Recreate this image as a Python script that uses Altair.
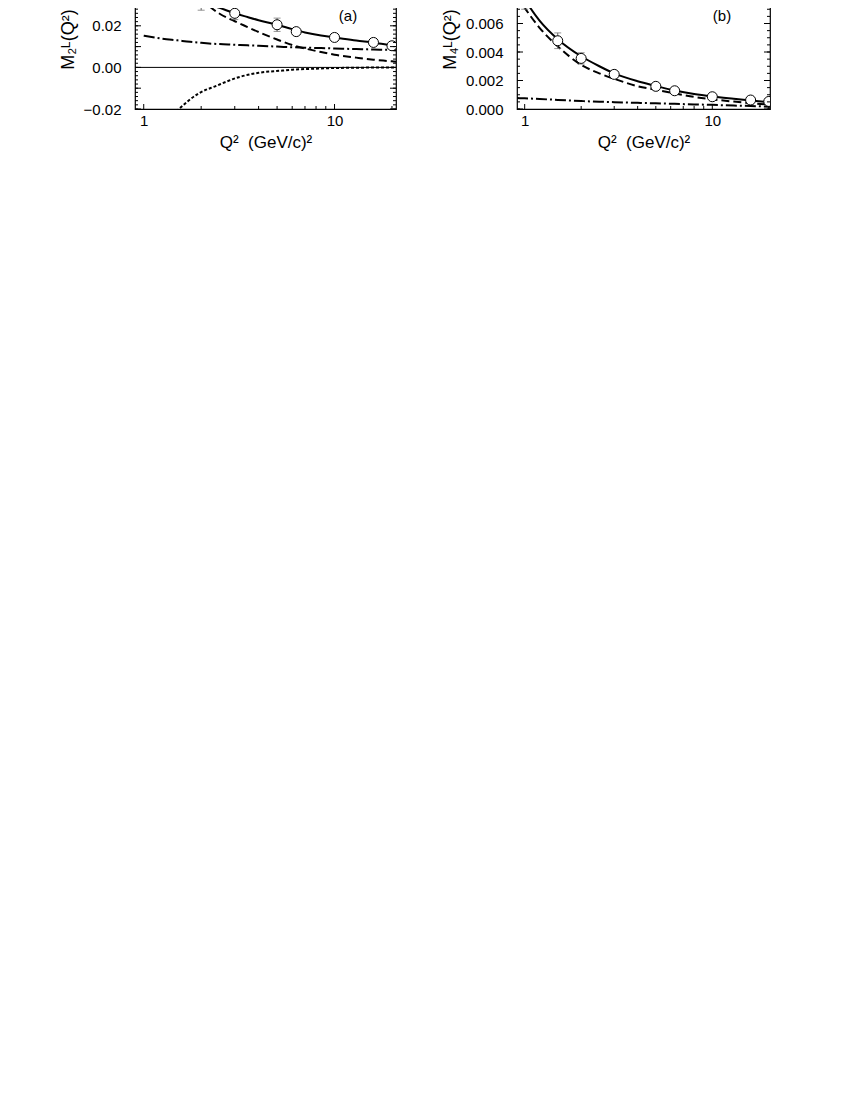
import altair as alt
import pandas as pd

FONT = "Liberation Sans"

# ---------------- panel (a): M2^L ----------------
a_q = [1.5, 2, 3, 5, 6.3, 10, 16, 20]
a_m = [0.037, 0.0322, 0.026, 0.0205, 0.0172, 0.0144, 0.0120, 0.0104]
a_err = [0.0073, 0.0047, 0.003, 0.0032, 0.001, 0.0008, 0.0008, 0.0008]

a_curve_q = [1.0, 1.25, 1.5, 1.75, 2.0, 2.2, 2.5, 3.0, 3.5, 4.0, 5.0, 6.0, 7.0, 8.5, 10, 13, 16, 20, 21]
a_total = [0.060, 0.048, 0.040, 0.0355, 0.0321, 0.0303, 0.0286, 0.0260, 0.0242, 0.0227, 0.0205, 0.0184, 0.0168, 0.0153, 0.0144, 0.0129, 0.0119, 0.0106, 0.0104]
a_dashed = [0.090, 0.062, 0.050, 0.040, 0.0330, 0.0295, 0.0258, 0.0222, 0.0194, 0.0170, 0.0134, 0.0108, 0.0091, 0.0074, 0.0061, 0.0047, 0.0037, 0.0029, 0.0027]
a_dashdot = [0.0152, 0.0138, 0.0130, 0.0123, 0.0118, 0.0115, 0.0112, 0.0109, 0.0106, 0.0104, 0.0100, 0.0097, 0.0095, 0.0093, 0.0091, 0.0088, 0.0086, 0.0084, 0.0083]
a_dotted_q = [1.0, 1.25, 1.53, 1.94, 2.38, 3.15, 4.0, 5.2, 6.0, 8.0, 10, 14, 21]
a_dotted = [-0.045, -0.028, -0.020, -0.0125, -0.0090, -0.0047, -0.0026, -0.0016, -0.0011, -0.0006, -0.0003, -0.00012, -0.00004]

# ---------------- panel (b): M4^L ----------------
b_q = [1, 1.5, 2, 3, 5, 6.3, 10, 16, 20]
b_m = [0.0077, 0.00479, 0.00355, 0.00243, 0.00159, 0.00128, 0.00086, 0.00063, 0.00053]
b_err = [0.0007, 0.00055, 0.0004, 0.0002, 0.00008, 0.00006, 0.00005, 0.00004, 0.00004]

b_curve_q = [0.91, 1.0, 1.2, 1.5, 2.0, 2.5, 3.0, 4.0, 5.0, 6.3, 8.0, 10, 13, 16, 20.3]
b_total = [0.0086, 0.0077, 0.0062, 0.0049, 0.0037, 0.0030, 0.0025, 0.00195, 0.00162, 0.0013, 0.00105, 0.00088, 0.00072, 0.0006, 0.00047]
b_dashed = [0.0079, 0.0071, 0.0057, 0.0044, 0.0031, 0.0025, 0.00212, 0.0016, 0.00135, 0.0011, 0.00085, 0.00068, 0.00052, 0.00041, 0.0003]
b_dashdot = [0.00077, 0.00075, 0.0007, 0.00064, 0.00056, 0.00051, 0.00048, 0.00043, 0.0004, 0.00036, 0.00032, 0.00029, 0.00024, 0.00021, 0.00016]

# axis ticks
a_major = [-0.02, -0.01, 0.0, 0.01, 0.02, 0.03, 0.04, 0.05, 0.06]
a_minor = [round(-0.02 + 0.002 * i, 4) for i in range(41)]
b_major = [0.0, 0.002, 0.004, 0.006, 0.008, 0.010]
b_minor = [round(0.0005 * i, 4) for i in range(24)]
x_major = [1, 10]
x_minor = [2, 3, 4, 5, 6, 7, 8, 9, 20]

H = 170


def panel(W, xdom, ydom, yvals, yfmt, ytitle, label,
          pq, pm, perr, cq, curves, dq=None, dv=None,
          major=None, minor=None, zero=False):
    xs = alt.Scale(type="log", domain=xdom, nice=False)
    ys = alt.Scale(domain=ydom, nice=False, zero=False)
    xax = alt.Axis(values=x_major, format="d", grid=False, ticks=False, domain=False,
                   labelFontSize=15, labelPadding=4, labelFont=FONT, labelColor="black",
                   title="Q²\u00a0\u00a0(GeV/c)²", titleFontSize=17, titleFont=FONT,
                   titleFontWeight="normal", titlePadding=6, titleColor="black")
    yax = alt.Axis(values=yvals, format=yfmt, grid=False, ticks=False, domain=False,
                   labelFontSize=15, labelPadding=14, labelFont=FONT, labelColor="black",
                   title=ytitle, titleFontSize=18, titleFont=FONT, titleY=100,
                   titleFontWeight="normal", titlePadding=6, titleColor="black")

    def X(f):
        return alt.X(f, scale=xs, axis=xax)

    def Y(f):
        return alt.Y(f, scale=ys, axis=yax)

    cdf = pd.DataFrame({"q": cq, **curves})
    layers = []
    styles = {"total": None, "dashed": [8, 4], "dashdot": [11, 3, 2, 3]}
    for name, dash in styles.items():
        kw = dict(color="black", strokeWidth=2, clip=True, interpolate="monotone")
        if dash:
            kw["strokeDash"] = dash
        layers.append(alt.Chart(cdf).mark_line(**kw).encode(x=X("q:Q"), y=Y(f"{name}:Q")))
    if dq is not None:
        ddf = pd.DataFrame({"q": dq, "v": dv})
        layers.append(alt.Chart(ddf).mark_line(color="black", strokeWidth=2, strokeDash=[3, 2],
                                               clip=True, interpolate="monotone")
                      .encode(x=X("q:Q"), y=Y("v:Q")))
    if zero:
        layers.append(alt.Chart(pd.DataFrame({"z": [0.0]})).mark_rule(color="black", strokeWidth=1)
                      .encode(y=Y("z:Q")))

    pdf = pd.DataFrame({"q": pq, "m": pm, "e": perr})
    pdf["lo"] = pdf["m"] - pdf["e"]
    pdf["hi"] = pdf["m"] + pdf["e"]
    base = alt.Chart(pdf)
    layers.append(base.mark_rule(color="#666666", strokeWidth=1, clip=True).encode(
        x=X("q:Q"), y=Y("lo:Q"), y2="hi:Q"))
    for col in ["lo", "hi"]:
        layers.append(base.mark_tick(color="#666666", orient="horizontal", size=7, thickness=1, clip=True).encode(
            x=X("q:Q"), y=Y(f"{col}:Q")))
    layers.append(base.mark_point(shape="circle", filled=True, fill="white", stroke="black",
                                  strokeWidth=1, size=100, opacity=1, clip=True).encode(
        x=X("q:Q"), y=Y("m:Q")))

    # inward ticks on left/right edges
    for vals, ln in [(minor, 3), (major, 6)]:
        tdf = pd.DataFrame({"t": vals})
        layers.append(alt.Chart(tdf).mark_rule(color="black", strokeWidth=1).encode(
            y=Y("t:Q"), x=alt.value(0), x2=alt.value(ln)))
        layers.append(alt.Chart(tdf).mark_rule(color="black", strokeWidth=1).encode(
            y=Y("t:Q"), x=alt.value(W), x2=alt.value(W - ln)))
    for vals, ln in [(x_minor, 3), (x_major, 5)]:
        tdf = pd.DataFrame({"t": vals})
        layers.append(alt.Chart(tdf).mark_rule(color="black", strokeWidth=1).encode(
            x=X("t:Q"), y=alt.value(H), y2=alt.value(H - ln)))

    layers.append(alt.Chart(pd.DataFrame({"s": [label]})).mark_text(
        font=FONT, fontSize=15, color="black", align="center", baseline="alphabetic").encode(
        text="s:N", x=alt.value(W - 48), y=alt.value(82)))

    return alt.layer(*layers).properties(width=W, height=H)


left = panel(261, [0.9, 21], [-0.02, -0.02 + H / 2080.0], [-0.02, 0.0, 0.02], ".2f",
             "M₂ᴸ(Q²)", "(a)", a_q, a_m, a_err, a_curve_q,
             {"total": a_total, "dashed": a_dashed, "dashdot": a_dashdot},
             dq=a_dotted_q, dv=a_dotted, major=a_major, minor=a_minor, zero=True)
right = panel(253, [0.91, 20.3], [0.0, H / 14250.0], [0.0, 0.002, 0.004, 0.006], ".3f",
              "M₄ᴸ(Q²)", "(b)", b_q, b_m, b_err, b_curve_q,
              {"total": b_total, "dashed": b_dashed, "dashdot": b_dashdot},
              major=b_major, minor=b_minor)

chart = alt.hconcat(left, right, spacing=42).properties(
    padding={"top": -70, "left": 50, "right": 5, "bottom": 5},
    background="white",
).configure_view(stroke="black", strokeWidth=1.2)

chart.save("out.html", embed_options={"renderer": "svg", "actions": False})
